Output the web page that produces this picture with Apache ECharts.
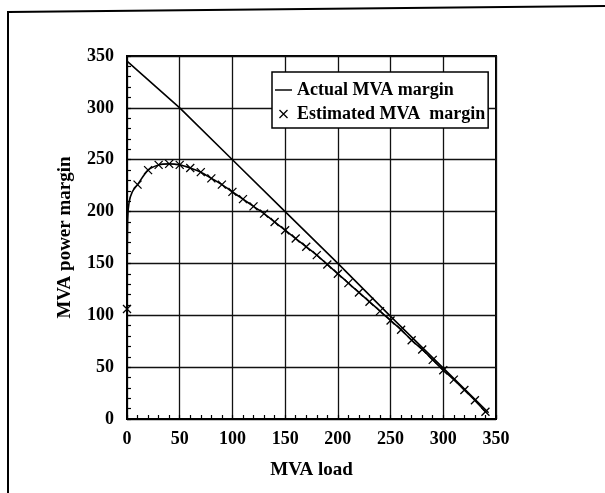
<!DOCTYPE html>
<html>
<head>
<meta charset="utf-8">
<script src="https://cdn.jsdelivr.net/npm/echarts@6/dist/echarts.min.js"></script>
<style>
  html, body { margin: 0; padding: 0; background: #fff; }
  #chart { width: 605px; height: 493px; }
</style>
</head>
<body>
<div id="chart"></div>
<script>
// values
var actualX = [0, 50, 100, 150, 200, 250, 300, 343];
var actualY = [345, 300, 250, 200, 150, 99, 49, 6];

var estX = [0, 10, 20, 30, 40, 50, 60, 70, 80, 90, 100, 110, 120, 130, 140, 150, 160, 170,
            180, 190, 200, 210, 220, 230, 240, 250, 260, 270, 280, 290, 300, 310, 320, 330, 340];
var estY = [106, 226, 240, 245, 246, 245, 242, 238, 232, 226, 219, 212, 205, 198, 190, 182, 174, 166,
            158, 149, 140, 131, 122, 113, 104, 95, 86, 76, 67, 57, 47, 38, 28, 18, 7];
// curve between the first two markers (no marker drawn there)
var rampX = [0.6, 2, 5];
var rampY = [192, 209, 219];

var axisTicks = [0, 50, 100, 150, 200, 250, 300, 350];

var serif = '"Liberation Serif", "DejaVu Serif", serif';
var crossPath = 'path://M0,0L10,10M10,0L0,10';

function buildActual() {
    var d = [];
    for (var i = 0; i < actualX.length; i++) d.push([actualX[i], actualY[i]]);
    return d;
}

function buildEstimated() {
    var d = [[estX[0], estY[0]]];
    for (var j = 0; j < rampX.length; j++) {
        d.push({ value: [rampX[j], rampY[j]], symbol: 'none' });
    }
    for (var i = 1; i < estX.length; i++) d.push([estX[i], estY[i]]);
    return d;
}

var chart = echarts.init(document.getElementById('chart'));

var axisCommon = {
    type: 'value',
    min: axisTicks[0],
    max: axisTicks[axisTicks.length - 1],
    interval: 50,
    axisLine: { show: true, lineStyle: { color: '#000', width: 2 } },
    axisTick: { show: true, inside: true, length: 4, lineStyle: { color: '#000', width: 1.2 } },
    minorTick: { show: true, splitNumber: 5, length: 4, lineStyle: { color: '#000', width: 1.2 } },
    splitLine: { show: true, lineStyle: { color: '#111', width: 1.3 } },
    axisLabel: {
        color: '#000',
        fontFamily: serif,
        fontWeight: 'bold',
        fontSize: 18
    },
    nameLocation: 'middle',
    nameTextStyle: {
        color: '#000',
        fontFamily: serif,
        fontWeight: 'bold',
        fontSize: 19
    }
};

chart.setOption({
    animation: false,
    backgroundColor: '#fff',
    graphic: [{
        type: 'polyline',
        shape: { points: [[8, 493], [8, 12], [605, 6]] },
        style: { stroke: '#000', lineWidth: 2, fill: null }
    }],
    grid: {
        left: 127,
        right: 109,
        top: 56,
        bottom: 74,
        show: true,
        borderColor: '#000',
        borderWidth: 2
    },
    xAxis: Object.assign({}, axisCommon, {
        name: 'MVA load',
        nameGap: 42,
        axisLabel: Object.assign({}, axisCommon.axisLabel, { margin: 11 })
    }),
    yAxis: Object.assign({}, axisCommon, {
        name: 'MVA power margin',
        nameGap: 52,
        axisLabel: Object.assign({}, axisCommon.axisLabel, { margin: 13 })
    }),
    legend: {
        orient: 'vertical',
        left: 272,
        top: 72,
        backgroundColor: '#fff',
        borderColor: '#000',
        borderWidth: 1.5,
        borderRadius: 0,
        padding: [9, 3, 5, 3],
        itemGap: 6,
        itemWidth: 17,
        itemHeight: 8,
        textStyle: {
            color: '#000',
            fontFamily: serif,
            fontWeight: 'bold',
            fontSize: 18
        },
        data: [
            {
                name: 'Actual MVA margin',
                icon: 'path://M0,0H14V1.2H0Z',
                itemStyle: { color: '#000', borderWidth: 0 }
            },
            {
                name: 'Estimated MVA  margin',
                icon: crossPath,
                itemStyle: { color: '#000', borderColor: '#000', borderWidth: 1.3 }
            }
        ]
    },
    series: [
        {
            name: 'Actual MVA margin',
            type: 'line',
            data: buildActual(),
            symbol: 'none',
            lineStyle: { color: '#000', width: 1.6 },
            z: 3
        },
        {
            name: 'Estimated MVA  margin',
            type: 'line',
            data: buildEstimated(),
            smooth: 0.3,
            symbol: crossPath,
            symbolSize: 8,
            showAllSymbol: true,
            itemStyle: { color: '#000', borderColor: '#000', borderWidth: 1.3 },
            lineStyle: { color: '#000', width: 1.6 },
            z: 4
        }
    ]
});
</script>
</body>
</html>
